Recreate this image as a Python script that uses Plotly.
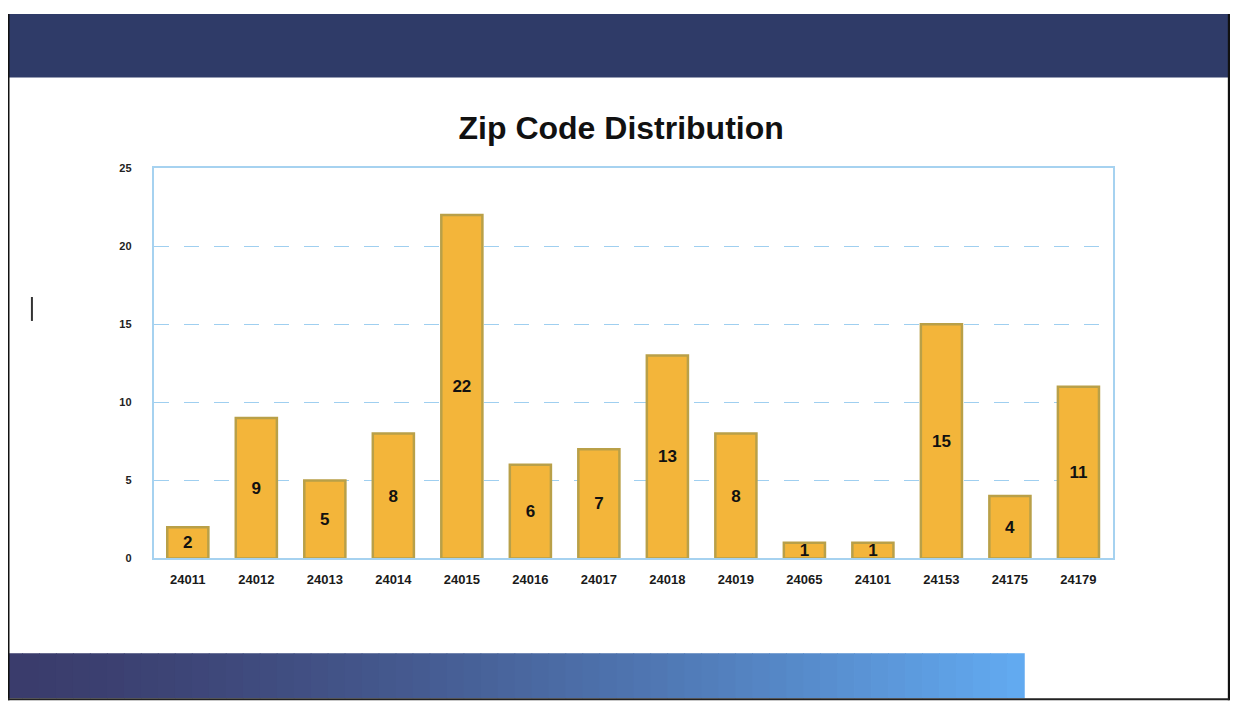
import plotly.graph_objects as go

zip_codes = ["24011", "24012", "24013", "24014", "24015", "24016", "24017",
             "24018", "24019", "24065", "24101", "24153", "24175", "24179"]
counts = [2, 9, 5, 8, 22, 6, 7, 13, 8, 1, 1, 15, 4, 11]
y_ticks = [0, 5, 10, 15, 20, 25]

W, H = 1238, 702

# mapping from target-picture pixels to paper coordinates (compensates page offset)
def px_x(x):
    fx = (x - 7) / 1.003
    return min(max(fx / W, 0), 1)


def px_y(y):
    fy = (y - 12.4) / 0.985
    return min(max(1 - fy / H, 0), 1)


FONT = "Liberation Sans, Arial, sans-serif"

fig = go.Figure()
fig.add_trace(go.Bar(
    x=zip_codes, y=counts,
    text=[str(c) for c in counts],
    textposition="inside", insidetextanchor="middle", constraintext="none",
    textangle=0,
    textfont=dict(family=FONT, size=17, color="#111111", weight="bold"),
    marker=dict(color="#F3B53A", line=dict(color="#B9A048", width=2.5)),
    width=0.6,
    hoverinfo="x+y",
))

shapes = []
# slide frame edges
shapes.append(dict(type="line", xref="paper", yref="paper",
                   x0=px_x(3), x1=px_x(3), y0=px_y(5), y1=px_y(700),
                   line=dict(color="#111111", width=3)))
shapes.append(dict(type="line", xref="paper", yref="paper",
                   x0=px_x(1232), x1=px_x(1232), y0=px_y(5), y1=px_y(700),
                   line=dict(color="#111111", width=3)))
shapes.append(dict(type="line", xref="paper", yref="paper",
                   x0=px_x(3), x1=px_x(1232), y0=px_y(699), y1=px_y(699),
                   line=dict(color="#222222", width=2)))
# header band
shapes.append(dict(type="rect", xref="paper", yref="paper",
                   x0=px_x(4), x1=px_x(1232), y0=px_y(76), y1=px_y(5),
                   line=dict(width=0), fillcolor="#2F3B68", layer="below"))
# bottom gradient band
n = 60
x_start, x_end = 4, 1026
c0 = (58, 60, 108)
c1 = (98, 170, 240)
for i in range(n):
    t = i / (n - 1)
    c = tuple(int(round(c0[k] + (c1[k] - c0[k]) * t ** 1.4)) for k in range(3))
    xa = x_start + (x_end - x_start) * i / n
    xb = x_start + (x_end - x_start) * (i + 1) / n + 0.8
    shapes.append(dict(type="rect", xref="paper", yref="paper",
                       x0=px_x(xa), x1=px_x(xb), y0=px_y(698), y1=px_y(653),
                       line=dict(width=0), fillcolor="rgb(%d,%d,%d)" % c, layer="below"))
# small scan mark on left
shapes.append(dict(type="line", xref="paper", yref="paper",
                   x0=px_x(31), x1=px_x(31), y0=px_y(296), y1=px_y(320),
                   line=dict(color="#333333", width=2)))

fig.update_layout(
    width=W, height=H,
    margin=dict(l=0, r=0, t=0, b=0),
    paper_bgcolor="white", plot_bgcolor="white",
    showlegend=False,
    shapes=shapes,
    title=dict(text="Zip Code Distribution", x=px_x(622), xanchor="center",
               y=px_y(130), yanchor="middle",
               font=dict(family=FONT, size=32, color="#111111", weight="bold")),
    xaxis=dict(domain=[px_x(153), px_x(1115)], type="category",
               showline=True, linecolor="#A6D2F0", linewidth=1.5, mirror=True,
               showgrid=False, ticks="", ticklabelstandoff=8,
               tickfont=dict(family=FONT, size=13, color="#1a1a1a", weight="bold")),
    yaxis=dict(domain=[px_y(558), px_y(167)], range=[0, 25],
               tickvals=y_ticks, ticktext=[str(v) for v in y_ticks],
               showline=True, linecolor="#A6D2F0", linewidth=1.5, mirror=True,
               showgrid=True, gridcolor="#9FCFF0", gridwidth=1.3, griddash="longdash",
               zeroline=False, ticks="", ticklabelstandoff=18,
               tickfont=dict(family=FONT, size=11, color="#222222", weight="bold")),
)

fig.write_html("out.html")
